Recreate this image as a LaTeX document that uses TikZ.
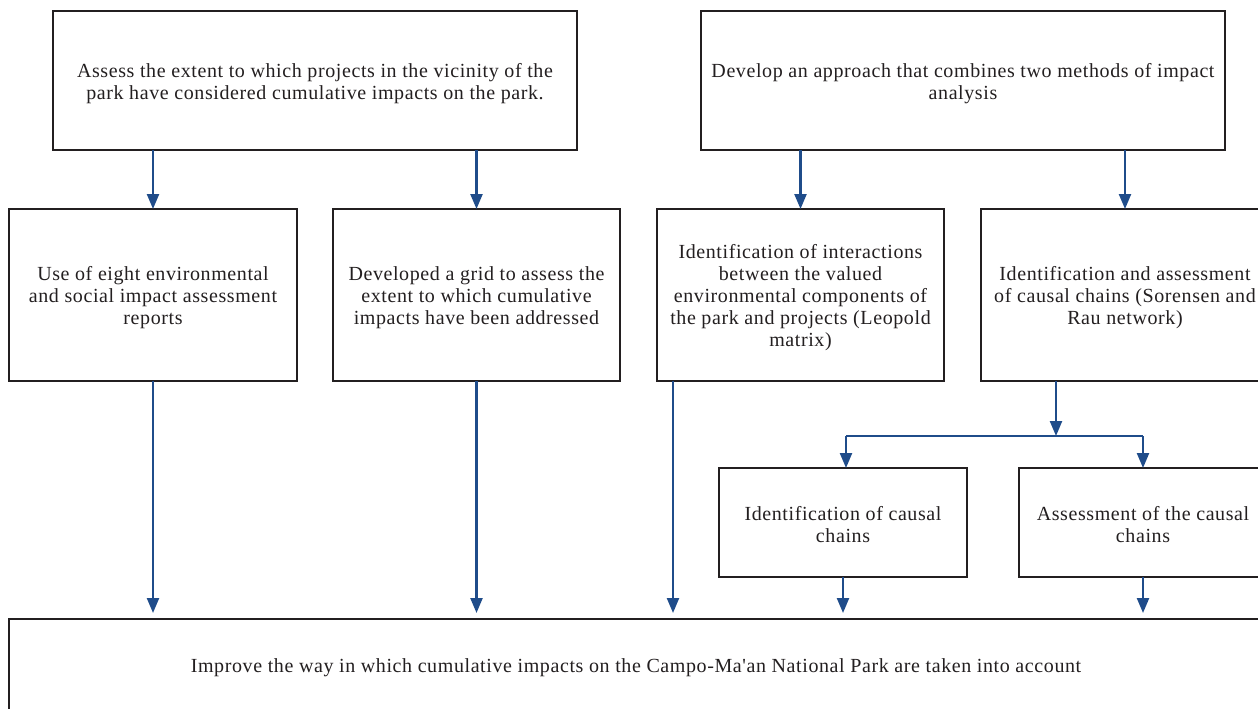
\documentclass[tikz,border=0pt]{standalone}
\usepackage{fontspec}
\setmainfont{Liberation Serif}[Ligatures=TeXOff,LetterSpace=3]
\usetikzlibrary{arrows.meta,calc}
\definecolor{arrowblue}{HTML}{1F4C8A}
\definecolor{boxline}{HTML}{231F20}
\begin{document}
\begin{tikzpicture}[x=1pt,y=-1pt,
  box/.style={draw=boxline,line width=2.6pt,fill=white,rectangle,inner sep=0pt,outer sep=0pt},
  txt/.style={align=center,inner sep=0pt,font=\fontsize{20}{22}\selectfont,text=boxline},
  conn/.style={draw=arrowblue,line width=2.3pt,-{Triangle[length=15pt,width=12pt]}},
  plain/.style={draw=arrowblue,line width=2.3pt}]
\useasboundingbox (0,0) rectangle (1258,709);
\node[box,minimum width=524pt,minimum height=139pt] (A) at (315,80.5) {};
\node[box,minimum width=524pt,minimum height=139pt] (B) at (963,80.5) {};
\node[box,minimum width=288pt,minimum height=172pt] (C) at (153,295) {};
\node[box,minimum width=287pt,minimum height=172pt] (D) at (476.5,295) {};
\node[box,minimum width=287pt,minimum height=172pt] (E) at (800.5,295) {};
\node[box,minimum width=288pt,minimum height=172pt] (F) at (1125,295) {};
\node[box,minimum width=248pt,minimum height=109pt] (G) at (843,522.5) {};
\node[box,minimum width=248pt,minimum height=109pt] (H) at (1143,522.5) {};
\node[box,minimum width=1254pt,minimum height=94pt] (I) at (636,666) {};
\node[txt] (At) at ([yshift=-3pt]A.center)
  {Assess the extent to which projects in the vicinity of the\\park have considered cumulative impacts on the park.};
\node[txt] (Bt) at ([yshift=-3pt]B.center)
  {Develop an approach that combines two methods of impact\\analysis};
\node[txt] (Ct) at ([yshift=-3pt]C.center)
  {Use of eight environmental\\and social impact assessment\\reports};
\node[txt] (Dt) at ([yshift=-3pt]D.center)
  {Developed a grid to assess the\\extent to which cumulative\\impacts have been addressed};
\node[txt] (Et) at ([yshift=-3pt]E.center)
  {Identification of interactions\\between the valued\\environmental components of\\the park and projects (Leopold\\matrix)};
\node[txt] (Ft) at ([yshift=-3pt]F.center)
  {Identification and assessment\\of causal chains (Sorensen and\\Rau network)};
\node[txt] (Gt) at ([yshift=-2pt]G.center)
  {Identification of causal\\chains};
\node[txt] (Ht) at ([yshift=-2pt]H.center)
  {Assessment of the causal\\chains};
\node[txt] (It) at ([yshift=-2pt]I.center)
  {Improve the way in which cumulative impacts on the Campo-Ma'an National Park are taken into account};
% top arrows
\draw[conn] (A.south -| C.north) -- (C.north);
\draw[conn] (A.south -| D.north) -- (D.north);
\draw[conn] (B.south -| E.north) -- (E.north);
\draw[conn] (B.south -| F.north) -- (F.north);
% to bottom box
\draw[conn,shorten >=6pt] (C.south) -- (C.south |- I.north);
\draw[conn,shorten >=6pt] (D.south) -- (D.south |- I.north);
\coordinate (Eo) at ($(E.south west)+(16,0)$);
\draw[conn,shorten >=6pt] (Eo) -- (Eo |- I.north);
\draw[conn,shorten >=6pt] (G.south) -- (G.south |- I.north);
\draw[conn,shorten >=6pt] (H.south) -- (H.south |- I.north);
% branching
\coordinate (Fo) at ($(F.south west)+(75,0)$);
\coordinate (J) at (Fo |- 0,436);
\coordinate (JL) at (846,436);
\coordinate (JR) at (H.north |- J);
\draw[conn] (Fo) -- (J);
\draw[plain] (JL) -- (JR);
\draw[conn] (JL) -- (JL |- G.north);
\draw[conn] (JR) -- (H.north);
\end{tikzpicture}
\end{document}
